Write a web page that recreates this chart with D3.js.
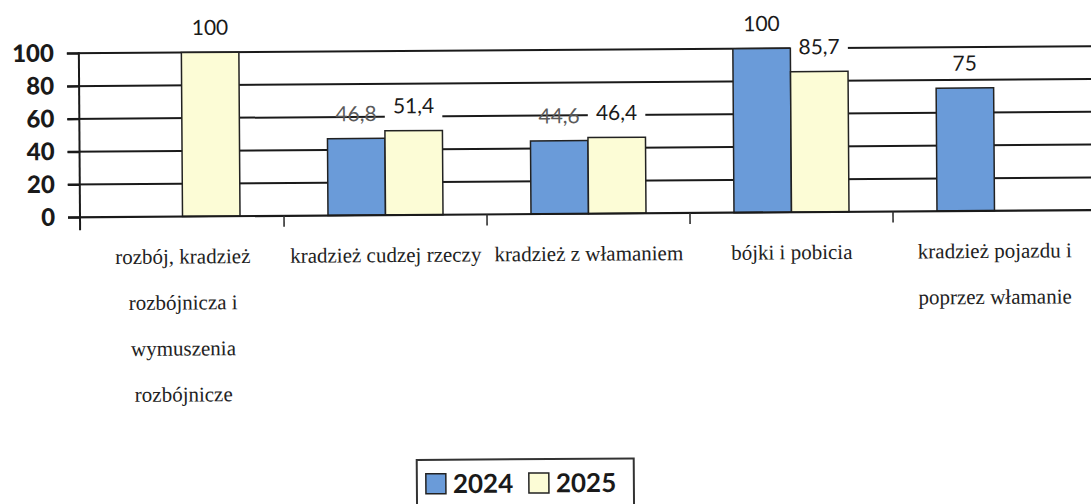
<!DOCTYPE html>
<html><head><meta charset="utf-8">
<script src="https://cdn.jsdelivr.net/npm/d3@7"></script>
<style>
html,body{margin:0;padding:0;background:#fff;}
svg{display:block;}
.cat{font-family:"Liberation Serif","LiberationSerif","Tinos","Times New Roman","Times","Noto Serif","DejaVu Serif","FreeSerif","Nimbus Roman","Nimbus Roman No9 L","Linux Libertine O",serif;font-size:21px;}
.sans{font-family:Lato,"Open Sans",sans-serif;}
</style></head>
<body>
<div id="chart"></div>
<script>
const categories = [
  ["rozbój, kradzież", "rozbójnicza i", "wymuszenia", "rozbójnicze"],
  ["kradzież cudzej rzeczy"],
  ["kradzież z włamaniem"],
  ["bójki i pobicia"],
  ["kradzież pojazdu i", "poprzez włamanie"]
];
const seriesNames = ["2024", "2025"];
const values2024 = [null, 46.8, 44.6, 100, 75];
const values2025 = [100, 51.4, 46.4, 85.7, null];
const yTicks = [0, 20, 40, 60, 80, 100];

const W = 1091, H = 504;
const colors = {"2024": "#6a9bd9", "2025": "#fcfcd6"};
const fmt = v => String(v).replace(".", ",");

const svg = d3.select("#chart").append("svg").attr("width", W).attr("height", H);
const g = svg.append("g").attr("transform", "rotate(-0.4,545,214)");

const x = d3.scaleBand().domain(d3.range(categories.length)).range([81, 1096]).padding(0);
const x1 = d3.scaleBand().domain(seriesNames).range([0, x.bandwidth()]).paddingInner(0).paddingOuter(0.765);
const y = d3.scaleLinear().domain([0, 100]).range([214, 50]);

const data = [];
categories.forEach((c, i) => {
  if (values2024[i] != null) data.push({i, s: "2024", v: values2024[i]});
  if (values2025[i] != null) data.push({i, s: "2025", v: values2025[i]});
});

// gridlines
g.append("g").selectAll("line").data(yTicks.filter(t => t > 0)).join("line")
  .attr("x1", 68).attr("x2", 1110)
  .attr("y1", d => y(d)).attr("y2", d => y(d))
  .attr("stroke", "#1a1a1a").attr("stroke-width", 2);

// white label backgrounds (2025 labels)
const labelOffset = 25;
g.append("g").selectAll("rect").data(data.filter(d => d.s === "2025")).join("rect")
  .attr("x", d => x(d.i) + x1(d.s))
  .attr("width", x1.bandwidth())
  .attr("y", d => y(d.v) - labelOffset - 20)
  .attr("height", 37)
  .attr("fill", "#fff");

// bars
g.append("g").selectAll("rect").data(data).join("rect")
  .attr("x", d => x(d.i) + x1(d.s))
  .attr("width", x1.bandwidth())
  .attr("y", d => y(d.v))
  .attr("height", d => y(0) - y(d.v))
  .attr("fill", d => colors[d.s])
  .attr("stroke", "#222").attr("stroke-width", 1.5);

// y axis
const yAxis = d3.axisLeft(y).tickValues(yTicks).tickSize(12).tickPadding(13).tickFormat(d3.format("d"));
const ya = g.append("g").attr("transform", "translate(80,0)").call(yAxis);
ya.select(".domain").remove();
ya.selectAll(".tick line").attr("stroke", "#1a1a1a").attr("stroke-width", 2);
ya.selectAll(".tick text").attr("fill", "#1a1a1a").attr("class", "sans")
  .style("font-weight", "900").style("font-size", "24px");
g.append("line").attr("x1", 80).attr("x2", 80).attr("y1", y(100) - 1).attr("y2", y(0) + 13)
  .attr("stroke", "#1a1a1a").attr("stroke-width", 2);

// x axis line
g.append("line").attr("x1", 68).attr("x2", 1110).attr("y1", y(0)).attr("y2", y(0))
  .attr("stroke", "#1a1a1a").attr("stroke-width", 2.2);
// x ticks at category boundaries
g.append("g").selectAll("line").data(d3.range(1, categories.length)).join("line")
  .attr("x1", d => x(d)).attr("x2", d => x(d))
  .attr("y1", y(0)).attr("y2", y(0) + 11)
  .attr("stroke", "#333").attr("stroke-width", 1.6);

// data labels
g.append("g").selectAll("text").data(data).join("text")
  .attr("class", "sans")
  .attr("x", d => x(d.i) + x1(d.s) + x1.bandwidth() / 2)
  .attr("y", d => y(d.v) - labelOffset)
  .attr("dy", "0.36em")
  .attr("text-anchor", "middle")
  .attr("fill", d => (d.s === "2024" && d.v < 50) ? "#5a5a5a" : "#1a1a1a")
  .style("font-size", "21px")
  .text(d => fmt(d.v));

// category labels
const cl = g.append("g").selectAll("text").data(categories).join("text")
  .attr("class", "cat")
  .attr("x", (d, i) => x(i) + x.bandwidth() / 2)
  .attr("y", 261)
  .attr("text-anchor", "middle")
  .attr("fill", "#222");
cl.selectAll("tspan").data(d => d).join("tspan")
  .attr("x", function() { return d3.select(this.parentNode).attr("x"); })
  .attr("dy", (d, j) => j === 0 ? 0 : 46)
  .text(d => d);

// legend
const lg = g.append("g").attr("transform", "translate(415,459)");
lg.append("rect").attr("x", 0).attr("y", 0).attr("width", 217).attr("height", 60)
  .attr("fill", "#fff").attr("stroke", "#333").attr("stroke-width", 2);
const li = lg.selectAll("g.item").data(seriesNames).join("g").attr("class", "item")
  .attr("transform", (d, i) => `translate(${9 + i * 103},14)`);
li.append("rect").attr("width", 20).attr("height", 20)
  .attr("fill", d => colors[d]).attr("stroke", "#222").attr("stroke-width", 1.5);
li.append("text").attr("class", "sans").attr("x", 27).attr("y", 10).attr("dy", "0.36em")
  .attr("fill", "#1a1a1a")
  .style("font-weight", "bold").style("font-size", "26px")
  .text(d => d);
</script>
</body></html>
